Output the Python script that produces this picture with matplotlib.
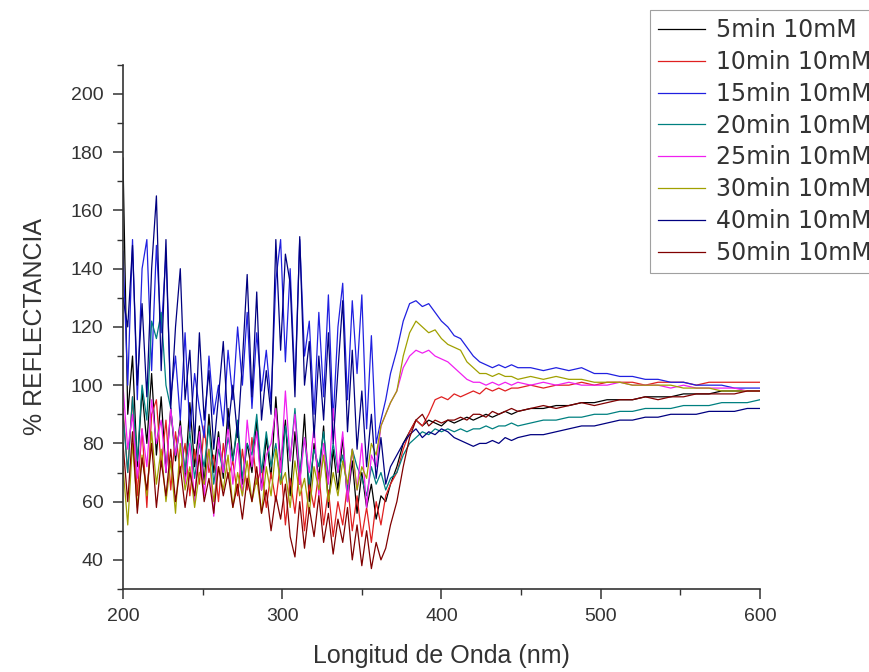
import matplotlib.pyplot as plt
import numpy as np

# Longitudes de onda (nm): zona ruidosa, pico y cola
wl_ruido = np.arange(200, 369, 3)
wl_pico = np.arange(372, 449, 4)
wl_cola = np.arange(456, 601, 8)
wl = np.concatenate([wl_ruido, wl_pico, wl_cola])

etiquetas = ['5min 10mM', '10min 10mM', '15min 10mM', '20min 10mM',
             '25min 10mM', '30min 10mM', '40min 10mM', '50min 10mM']

# % reflectancia
r05 = [178, 90, 110, 72, 98, 80, 104, 76, 96, 70,
       92, 74, 88, 68, 94, 72, 86, 66, 90, 70,
       84, 68, 92, 74, 86, 66, 80, 70, 88, 64,
       82, 68, 96, 72, 88, 62, 84, 66, 90, 60,
       80, 68, 86, 58, 78, 64, 82, 60, 74, 56,
       70, 58, 66, 54, 62, 60, 66,
       72, 80, 84, 88, 86, 88, 87, 86, 88, 87, 88, 89, 88, 89, 90, 89, 90, 91, 90, 91,
       92, 92, 93, 93, 94, 94, 95, 95, 95, 96, 96, 96, 97, 97, 97, 98, 98, 98, 98]
r10 = [92, 70, 96, 62, 85, 58, 90, 95, 72, 88,
       64, 84, 70, 80, 62, 78, 66, 86, 70, 76,
       60, 80, 68, 74, 62, 78, 64, 82, 66, 72,
       58, 70, 60, 74, 52, 68, 56, 72, 50, 66,
       58, 70, 52, 64, 48, 60, 52, 66, 50, 62,
       48, 58, 46, 60, 52, 62, 66,
       70, 78, 84, 88, 86, 90, 95, 96, 95, 97, 96, 97, 98, 97, 99, 98, 99, 98, 99, 99,
       100, 99, 100, 100, 101, 100, 101, 101, 101, 100, 101, 101, 101, 100, 101, 101, 101, 101, 101]
r15 = [146, 100, 150, 95, 140, 150, 105, 148, 118, 145,
       96, 110, 88, 118, 84, 104, 92, 82, 110, 90,
       100, 86, 112, 95, 120, 100, 125, 92, 118, 98,
       112, 94, 136, 150, 108, 140, 100, 150, 110, 122,
       90, 125, 96, 131, 88, 120, 135, 95, 129, 104,
       131, 85, 117, 80, 88, 95, 104,
       112, 122, 128, 129, 127, 128, 125, 122, 120, 117, 116, 113, 110, 108, 107, 106, 107, 106, 107, 106,
       106, 105, 106, 105, 106, 104, 104, 103, 103, 102, 102, 101, 101, 100, 100, 100, 99, 99, 99]
r20 = [90, 70, 96, 74, 100, 88, 122, 116, 125, 100,
       92, 76, 86, 70, 84, 68, 80, 72, 86, 66,
       78, 70, 82, 74, 88, 68, 80, 76, 90, 70,
       84, 72, 80, 66, 86, 74, 92, 70, 82, 66,
       78, 72, 84, 68, 80, 70, 76, 64, 78, 72,
       68, 62, 72, 66, 70, 64, 68,
       70, 76, 80, 82, 84, 83, 85, 84, 85, 84, 85, 84, 85, 85, 86, 85, 86, 86, 87, 86,
       87, 88, 88, 89, 89, 90, 90, 91, 91, 92, 92, 92, 93, 93, 93, 94, 94, 94, 95]
r25 = [100, 78, 90, 68, 85, 72, 95, 80, 88, 70,
       92, 76, 86, 66, 80, 60, 84, 62, 78, 55,
       82, 70, 86, 66, 80, 62, 88, 72, 84, 64,
       76, 80, 92, 70, 98, 74, 90, 66, 82, 70,
       86, 62, 80, 66, 92, 70, 84, 60, 78, 64,
       80, 58, 76, 72, 86, 90, 94,
       98, 106, 110, 112, 111, 112, 110, 109, 108, 106, 104, 102, 101, 101, 100, 101, 100, 101, 100, 101,
       100, 101, 100, 101, 100, 100, 100, 101, 100, 100, 100, 99, 100, 99, 99, 99, 99, 98, 98]
r30 = [72, 52, 80, 58, 76, 62, 84, 66, 78, 60,
       74, 56, 80, 64, 72, 58, 70, 66, 78, 60,
       72, 64, 76, 58, 70, 62, 74, 60, 68, 56,
       72, 62, 78, 66, 70, 58, 74, 62, 68, 56,
       72, 64, 76, 60, 70, 62, 74, 66, 78, 64,
       72, 68, 80, 76, 86, 90, 94,
       98, 110, 118, 122, 120, 118, 119, 116, 114, 113, 112, 108, 106, 104, 104, 103, 104, 103, 103, 102,
       103, 102, 103, 102, 102, 101, 101, 101, 100, 100, 100, 100, 99, 99, 99, 98, 98, 98, 98]
r40 = [130, 120, 148, 100, 128, 96, 140, 165, 105, 150,
       92, 120, 140, 95, 112, 80, 118, 88, 105, 78,
       96, 115, 85, 100, 82, 108, 138, 96, 132, 88,
       105, 90, 150, 112, 145, 135, 96, 151, 100, 115,
       82, 110, 88, 118, 80, 105, 129, 84, 112, 78,
       98, 72, 90, 68, 82, 66, 72,
       76, 80, 83, 85, 82, 84, 83, 85, 84, 82, 81, 80, 79, 80, 80, 81, 80, 82, 81, 82,
       83, 83, 84, 85, 86, 86, 87, 88, 88, 89, 89, 90, 90, 90, 91, 91, 91, 92, 92]
r50 = [80, 60, 84, 56, 75, 64, 80, 58, 74, 62,
       78, 60, 72, 58, 70, 62, 76, 60, 68, 56,
       72, 62, 70, 58, 66, 54, 68, 60, 72, 56,
       64, 50, 62, 54, 66, 48, 41, 60, 44, 58,
       48, 62, 46, 56, 42, 54, 46, 58, 40, 52,
       38, 50, 37, 46, 40, 44, 52,
       60, 72, 82, 88, 90, 86, 88, 87, 88, 88, 89, 88, 90, 90, 89, 91, 90, 91, 92, 91,
       92, 93, 92, 93, 94, 93, 94, 95, 95, 96, 95, 96, 96, 97, 97, 97, 97, 98, 98]

series = [r05, r10, r15, r20, r25, r30, r40, r50]
colores = ['#000000', '#e02020', '#2020e0', '#008080',
           '#f020f0', '#a0a000', '#000080', '#800000']

plt.rcParams['font.family'] = ['Liberation Sans', 'DejaVu Sans']
fig = plt.figure(figsize=(8.69, 6.72), dpi=100)
ax = fig.add_axes([0.1415, 0.1235, 0.733, 0.780])

for r, c, et in zip(series, colores, etiquetas):
    ax.plot(wl, r, color=c, linewidth=0.9, label=et)

ax.set_xlim(200, 600)
ax.set_ylim(30, 210)
ax.set_xticks([200, 300, 400, 500, 600])
ax.set_xticks([250, 350, 450, 550], minor=True)
ax.set_yticks(np.arange(40, 201, 20))
ax.set_yticks(np.arange(30, 211, 20), minor=True)

for lado in ['top', 'right']:
    ax.spines[lado].set_visible(False)
for lado in ['left', 'bottom']:
    ax.spines[lado].set_color('#333333')
    ax.spines[lado].set_linewidth(1.2)

ax.tick_params(which='major', direction='out', length=7, width=1.1,
               colors='#333333', labelsize=14, pad=7)
ax.tick_params(which='minor', direction='out', length=4, width=1.0, colors='#333333')

ax.set_xlabel('Longitud de Onda (nm)', fontsize=18, color='#333333', labelpad=13)
ax.set_ylabel('% REFLECTANCIA', fontsize=18, color='#333333', labelpad=17)

# leyenda arriba a la derecha, recortada por el borde como en el original
leg = fig.legend(loc='upper left', bbox_to_anchor=(650 / 869, 1 - 10 / 672),
                 borderaxespad=0, frameon=True, fancybox=False,
                 prop={'family': 'DejaVu Sans', 'size': 17},
                 handlelength=2.0, handletextpad=0.45, labelspacing=0.33,
                 borderpad=0.35)
leg.get_frame().set_edgecolor('#888888')
leg.get_frame().set_linewidth(0.8)
for t in leg.get_texts():
    t.set_color('#333333')

fig.savefig('out.png', dpi=100)
